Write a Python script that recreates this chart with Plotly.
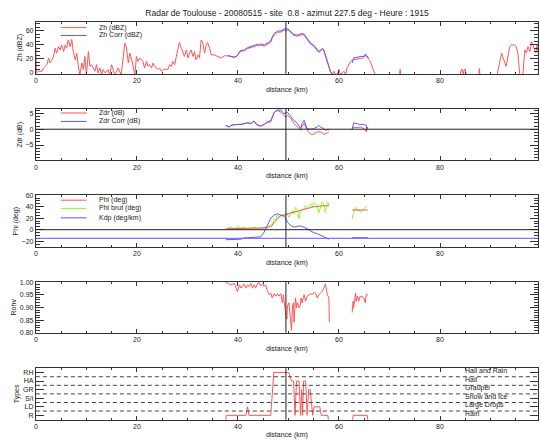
import plotly.graph_objects as go

# ---------------- data ----------------
TITLE = "Radar de Toulouse - 20080515 - site  0.8 - azimut 227.5 deg - Heure : 1915"
CURSOR_KM = 49.5

# Zh (red)
zh_km = [0.0, 0.1, 0.5, 1.2, 1.5, 2.2, 2.5, 2.8, 3.2, 3.5, 3.8, 4.1, 4.5, 4.8, 5.1, 5.5, 5.8, 6.1, 6.4, 6.8,
         7.1, 7.4, 7.8, 8.1, 8.4, 8.7, 9.1, 9.4, 9.7, 10.0, 10.4, 10.7, 11.0, 11.7, 12.0, 12.3, 12.7, 13.0, 13.3,
         13.7, 14.3, 14.6, 15.0, 15.3, 15.6, 16.3, 16.6, 16.9, 17.6, 17.9, 18.3, 18.6, 18.9, 19.2, 19.6, 19.9,
         20.2, 20.6, 20.9, 21.2, 21.5, 21.9, 22.2, 22.5, 22.9, 23.2, 23.5, 24.2, 24.5, 24.8, 25.5, 26.1, 26.5,
         26.8, 27.1, 27.5, 27.8, 28.1, 28.4, 28.8, 29.1, 29.4, 29.8, 30.1, 30.4, 30.7, 31.1, 31.4, 31.7, 32.1,
         32.4, 32.7, 33.0, 33.4, 33.7, 34.0, 34.4, 34.7, 35.3, 36.0, 36.7, 37.3, 37.97, 38.6, 39.3, 39.9, 40.3,
         40.6, 41.3, 41.9, 42.6, 43.2, 43.9, 44.2, 44.5, 45.2, 45.8, 46.5, 46.8, 47.2, 47.8, 48.5, 49.1, 49.5,
         49.8, 50.1, 50.5, 51.1, 51.8, 52.4, 52.7, 53.1, 53.7, 54.4, 55.0, 55.7, 56.0, 56.4, 56.7, 57.0, 57.4,
         57.7, 58.0, 58.3, 58.7, 59.0, 59.3, 59.7, 60.0, 60.3, 61.0, 61.3, 61.6, 62.0, 62.3, 62.9, 63.6, 64.2,
         64.9, 65.2, 65.5, 66.2, 66.5, 66.9, 67.2, 72.0, 72.1, 72.2, 84.0, 84.2, 84.4, 84.6, 84.8, 85.0, 85.2,
         87.7, 87.8, 87.9, 91.3, 91.6, 92.2, 92.5, 93.1, 93.8, 94.1, 94.8, 95.1, 95.4, 95.8, 96.4, 96.8, 97.1,
         97.4, 97.8, 98.1, 98.4, 98.7, 99.0, 99.2, 99.4]
zh_dbz = [38, 0, 2.3, 2.3, 7, 11.7, 21, 14, 18.6, 23.3, 35, 28, 37.3, 32.6, 39.6, 30.3, 39.6, 35, 46.6, 37.3,
          47.5, 30.3, 18.6, 28, 9.3, -3, 14, 4.7, 23.3, -3, 30.3, 9.3, 11.7, 2.3, 11.7, 0, 7, -3, 4.7,
          0, 4.7, -3, 11.7, 4.7, -3, 7, 2.3, -3, 42, 37.3, 14, 28, 21, 11.7, -3, 23.3,
          16.3, 21, 18.6, 16.3, 7, 16.3, 9.3, 11.7, 7, 14, 9.3, 4.7, 7, 2.3, 5.6, 4.7, 11.7,
          9.3, 16.3, 11.7, 23.3, 32.6, 43, 35, 30.3, 23.3, 32.6, 21, 28, 32.6, 23.3, 30.3, 18.6, 25.6,
          21, 46.6, 44.3, 28, 39.6, 43, 35, 25.6, 25.6, 23.3, 21, 24.2, 24.2, 23, 22, 24, 29,
          30.5, 31.5, 34.5, 36, 38, 39, 38.5, 39.5, 38, 40.5, 43.5, 49.5, 54, 57.5, 58, 60, 60.6,
          60.6, 59.7, 56.5, 53, 52, 53.5, 54.5, 53.5, 47.5, 40.5, 38, 31, 29, 31, 33.5, 31.5, 22.5,
          15.5, 11, 2, -2, 2.3, -2.3, -1.4, 4.7, -2.3, 2.3, -2.3, 7, 11.7, 16.3, 18.6, 20, 20.5,
          21.5, 25, 23, 16.3, 9.3, 2.3, -2.3, -2.3, 5, -2.3, -2.3, 5, 5, -2.3, 5, 5, -2.3,
          -2.3, 6, -2.3, -2.3, 7, 28, 21, 9.3, 37.3, 39.6, 39.6, 37.3, 28, -2.3, -2.3, 32.6, 28,
          37.3, 30.3, 44.3, 39.6, 35, 28, 40, 30]

# Zh Corr (blue)
zhc_km = [37.97, 38.6, 39.3, 39.9, 40.3, 40.6, 41.3, 41.9, 42.6, 43.2, 43.9, 44.2, 44.5, 45.2, 45.8, 46.5,
          46.8, 47.2, 47.8, 48.5, 49.1, 49.5, 49.8, 50.1, 50.5, 51.1, 51.8, 52.4, 52.7, 53.1, 53.7, 54.4,
          55.0, 55.7, 56.0, 56.4, 56.7, 57.0, 57.4, 57.7, 58.0, 58.3, 58.7, None,
          62.6, 62.9, 63.6, 64.2, 64.9, 65.2, 65.5, 65.9]
zhc_dbz = [24.7, 23.3, 22.4, 24.7, 30.3, 31.7, 32.6, 35.9, 37.3, 39.6, 40.6, 39.6, 41, 39.6, 42, 45.2,
           51.3, 55.9, 59.2, 59.7, 62, 62.9, 62, 61.5, 58.3, 54.5, 53.6, 55, 55.9, 55, 49, 42,
           39.6, 32.6, 30.3, 32.6, 35, 32.6, 23.3, 16.3, 11.7, 2.3, -2, None,
           14, 21, 21.9, 23.3, 23.3, 26.6, 24.7, 21]

# Zdr (red) and Zdr Corr (blue)
zdr_km = [37.6, 38.3, 38.6, 39.3, 40.6, 41.9, 42.6, 43.2, 43.5, 43.9, 44.5, 45.2, 45.8, 46.5, 47.2, 47.8,
          48.5, 49.1, 49.5, 49.8, 50.4, 51.1, 51.8, 52.4, 52.7, 53.1, 53.7, 54.4, 55.0, 55.7, 56.4, 57.0,
          57.7, 58.0, None, 62.6, 62.9, 63.6, 64.2, 64.9, 65.4, 65.5]
zdr_db = [1.2, 0.7, 1.2, 1.45, 1.55, 2.0, 1.8, 2.6, 1.8, 1.4, 1.0, 1.5, 2.1, 2.3, 5.4, 5.9,
          5.4, 4.4, 3.8, 4.4, 3.6, 1.8, 0.7, -0.3, 0.9, 1.8, -0.3, -1.6, -1.6, -0.85, -0.85, -1.6,
          -1.15, -0.85, None, -0.3, 0.7, 0.5, 0.7, 0.2, -0.85, 0.2]
zdrc_km = [37.6, 38.3, 38.6, 39.3, 40.6, 41.9, 42.6, 43.2, 43.5, 43.9, 44.5, 45.2, 45.8, 46.5, 47.2, 47.8,
           48.5, 48.8, 49.1, 49.8, 50.1, 50.4, 50.8, 51.1, 51.8, 52.4, 52.7, 53.1, 53.4, 53.7, 54.4, 55.0,
           55.7, 56.0, 56.4, 57.0, 57.3, 58.0, None, 62.6, 62.9, 63.6, 64.2, 64.9, 65.4, 65.5, 65.7]
zdrc_db = [1.2, 0.7, 1.2, 1.45, 1.55, 2.0, 1.8, 2.6, 1.8, 1.2, 1.0, 1.55, 2.3, 2.8, 5.4, 6.1,
           6.1, 5.4, 4.9, 5.4, 4.7, 4.4, 3.3, 2.8, 1.8, 0.2, 1.8, 2.8, 1.2, 0.2, 0.0, 0.2,
           0.7, 1.2, 0.7, -0.1, -0.3, 0.0, None, 0.0, 2.0, 1.8, 1.45, 1.55, 1.2, -0.3, 0.7]

# Phi (red), Phi brut (green), Kdp (blue)
phi_km = [37.6, 38.6, 39.9, 41.9, 44.5, 45.8, 46.5, 47.2, 47.8, 48.5, 49.1, 49.8, 50.4, 51.1, 51.8, 52.4,
          53.1, 53.7, 54.4, 55.0, 55.7, 56.4, 57.0, 58.0, None, 62.6, 65.7]
phi_deg = [1.7, 1.7, 1.7, 2.2, 2.8, 4.5, 5.0, 13.1, 18.8, 24.5, 25.7, 27.4, 29.1, 30.2, 31.4, 33.1,
           34.8, 37.1, 38.8, 39.9, 40.5, 41.7, 41.7, 41.7, None, 34.2, 34.2]
phib_km = [38.0, 38.6, 39.3, 39.9, 40.6, 41.2, 41.9, 42.6, 43.2, 43.9, 44.5, 45.2, 45.8, 46.5, 46.8, 47.2,
           47.5, 47.8, 48.1, 48.5, 49.1, 49.5, 49.8, 50.1, 50.4, 50.8, 51.1, 51.4, 51.8, 52.1, 52.4, 52.7,
           53.1, 53.4, 53.7, 54.1, 54.4, 54.7, 55.0, 55.4, 55.7, 56.0, 56.4, 56.7, 57.0, 57.3, 57.7, 57.8,
           58.0, None, 62.6, 62.9, 63.3, 63.6, 63.9, 64.2, 64.6, 64.9, 65.2, 65.5]
phib_deg = [2.8, 4.5, 1.7, 5.1, 2.8, 3.9, 1.7, 3.4, 4.5, 1.7, 3.9, 0.5, 4.5, 8.5, 7.4, 18.8,
            15.9, 25.7, 21.7, 25.7, 24.5, 25.7, 27.4, 21.7, 25.7, 33.1, 27.4, 38.8, 35.9, 18.8, 33.1, 34.8,
            35.9, 41.7, 38.8, 40.5, 44.5, 38.8, 47.4, 44.5, 42.8, 29.1, 41.7, 48.5, 44.5, 30.2, 47.4, 48.5,
            41.7, None, 18.8, 30.2, 38.8, 33.1, 35.9, 30.2, 33.1, 35.9, 38.8, 41.7]
kdp_km = [37.6, 38.6, 39.9, 40.6, 41.2, 42.6, 43.9, 44.5, 45.2, 45.8, 46.5, 47.2, 47.8, 48.1, 48.5, 49.1,
          49.5, 49.8, 50.4, 51.1, 51.8, 52.4, 53.1, 53.7, 54.4, 55.0, 55.7, 56.4, 57.0, 57.7, 58.0, None,
          62.6, 65.7]
kdp_val = [-17.5, -17, -16.8, -16.5, -14.5, -14, -13, -12.5, -4, 7.4, 20, 25.7, 27.4, 26.8, 25.7, 23.4,
           18.8, 13.1, 7.4, 4.5, 6.2, 6.2, 4.5, 1.7, -2.9, -5.2, -6.9, -9.8, -12.6, -15.5, -16.6, None,
           -14, -14]
KDP_BASE = -15

# Rhohv
rho_km = [37.6, 38.6, 39.3, 39.6, 39.9, 40.3, 40.6, 41.2, 41.6, 41.9, 42.2, 42.6, 42.9, 43.2, 43.5, 43.9,
          44.2, 44.5, 44.9, 45.2, 45.5, 45.8, 46.2, 46.5, 46.8, 47.2, 47.5, 47.8, 48.1, 48.5, 48.8, 49.0,
          49.3, 49.5, 49.7, 49.8, 50.1, 50.3, 50.6, 50.8, 51.0, 51.1, 51.4, 51.6, 51.8, 52.1, 52.3, 52.5,
          52.7, 53.1, 53.4, 53.7, 54.1, 54.4, 54.7, 55.0, 55.4, 55.7, 56.0, 56.4, 56.7, 57.0, 57.3, 57.7,
          58.0, 58.1, None, 62.6, 62.8, 62.9, 63.1, 63.3, 63.4, 63.7, 63.9, 64.2, 64.6, 64.9, 65.2, 65.4, 65.7]
rho_val = [1.0, 0.99, 0.996, 0.977, 0.964, 0.99, 0.977, 0.994, 0.977, 0.99, 0.983, 0.996, 0.977, 0.99, 0.977, 0.996,
           0.999, 0.986, 0.994, 0.983, 0.99, 0.968, 0.951, 0.957, 0.938, 0.955, 0.945, 0.955, 0.945, 0.955, 0.919, 0.951,
           0.88, 0.867, 0.854, 0.906, 0.919, 0.861, 0.809, 0.906, 0.919, 0.841, 0.938, 0.899, 0.919, 0.899, 0.906, 0.938,
           0.919, 0.951, 0.925, 0.945, 0.951, 0.955, 0.951, 0.96, 0.955, 0.938, 0.951, 0.957, 0.964, 0.977, 0.994, 0.951,
           0.938, 0.841, None, 0.88, 0.925, 0.899, 0.938, 0.957, 0.925, 0.945, 0.925, 0.945, 0.942, 0.938, 0.919, 0.951, 0.951]

# Hydrometeor types (0 = none, 1..6 = R, LD, S/I, GR, HA, RH)
typ_km = [37.5, 37.7, 41.6, 41.9, 42.2, 46.5, 47.1, 50.1, 50.6, 51.0, 51.3, 51.6, 52.1, 52.4, 52.6, 52.8,
          53.0, 53.4, 53.7, 54.0, 54.3, 54.5, 54.8, 55.1, 56.2, 56.5, 57.8, 58.0, 62.6, 62.8, 65.6, 65.8]
typ_val = [0, 1, 1, 2, 1, 1, 6, 6, 5, 5, 1, 5, 5, 1, 4, 1,
           5, 5, 1, 4, 4, 3, 1, 2, 2, 1, 1, 0, 0, 1, 1, 0]
TYPE_CODES = ["R", "LD", "S/I", "GR", "HA", "RH"]
TYPE_NAMES = ["Rain", "Large Drops", "Snow and Ice", "Graupel", "Hail", "Hail and Rain"]
TYPE_LEVELS = [1, 2, 3, 4, 5, 6]
TYPE_LABEL_KM = 84.5

# ---------------- layout ----------------
W, H = 541, 443
X0, X1 = 34, 538
X_RANGE = [0, 99.4]
PANELS = [(18, 71), (106.7, 159), (194.3, 247), (282.3, 334), (370, 422.3)]
RED, BLUE, GREEN = "#ff5555", "#5a5aff", "#88ff22"
AX = "#333333"
TXT = "#222222"
FONT = "Liberation Sans"
FS = 7
FS_TITLE = 8.5

yconf = [
    dict(title="Zh (dBZ)", range=[-1.4, 72.6], dtick=20, minor=5),
    dict(title="Zdr (dB)", range=[-9.9, 6.4], dtick=5, minor=1),
    dict(title="Phi (deg)", range=[-30.3, 60], dtick=20, minor=5),
    dict(title="Rohv", range=[0.8, 1.002], dtick=0.05, minor=0.01),
    dict(title="Types", range=[0.5, 6.5], dtick=None, minor=None),
]

fig = go.Figure()

def add(i, x, y, color):
    s = "" if i == 1 else str(i)
    fig.add_trace(go.Scatter(x=x, y=y, mode="lines", line=dict(color=color, width=1),
                             xaxis="x" + s, yaxis="y" + s, showlegend=False, connectgaps=False,
                             hoverinfo="skip"))

add(1, zh_km, zh_dbz, RED)
add(1, zhc_km, zhc_dbz, BLUE)
add(2, zdr_km, zdr_db, RED)
add(2, zdrc_km, zdrc_db, BLUE)
add(3, phib_km, phib_deg, GREEN)
add(3, phi_km, phi_deg, RED)
add(3, kdp_km, kdp_val, BLUE)
add(4, rho_km, rho_val, RED)
add(5, typ_km, typ_val, RED)

lay = dict(width=W, height=H, margin=dict(l=0, r=0, t=0, b=0),
           paper_bgcolor="white", plot_bgcolor="white",
           font=dict(family=FONT, size=FS, color=TXT), showlegend=False)

for i, ((top, bot), yc) in enumerate(zip(PANELS, yconf), start=1):
    s = "" if i == 1 else str(i)
    lay["xaxis" + s] = dict(
        domain=[X0 / W, X1 / W], anchor="y" + s, range=X_RANGE,
        tickmode="linear", tick0=0, dtick=20, ticks="inside", ticklen=4, tickcolor=AX,
        minor=dict(dtick=5, tick0=0, ticks="inside", ticklen=2, tickcolor=AX),
        showline=True, linecolor=AX, linewidth=1, mirror="allticks",
        showgrid=False, zeroline=False, tickfont=dict(size=FS),
        title=dict(text="distance (km)", font=dict(size=FS), standoff=3))
    ya = dict(
        domain=[1 - bot / H, 1 - top / H], anchor="x" + s, range=yc["range"],
        ticks="inside", ticklen=8, tickcolor=AX,
        showline=True, linecolor=AX, linewidth=1, mirror="allticks",
        showgrid=False, zeroline=False, tickfont=dict(size=FS),
        title=dict(text=yc["title"], font=dict(size=FS), standoff=2))
    if yc["dtick"] is not None:
        ya.update(tickmode="linear", tick0=0, dtick=yc["dtick"],
                  minor=dict(dtick=yc["minor"], tick0=0, ticks="inside", ticklen=4, tickcolor=AX))
    else:
        ya.update(tickmode="array", tickvals=TYPE_LEVELS, ticktext=TYPE_CODES)
    if i == 4:
        ya["tickformat"] = ".2f"
    lay["yaxis" + s] = ya

lay["title"] = dict(text=TITLE, x=287 / W, xanchor="center", y=1 - 13 / H, yanchor="middle",
                    font=dict(size=FS_TITLE, family=FONT, color=TXT))

shapes = []
annotations = []
for i in range(1, 6):
    s = "" if i == 1 else str(i)
    shapes.append(dict(type="line", xref="x" + s, yref="y" + s + " domain", x0=CURSOR_KM, x1=CURSOR_KM,
                       y0=0, y1=1, line=dict(color="#222222", width=1)))
for i in (2, 3):
    shapes.append(dict(type="line", xref="x%d domain" % i, yref="y%d" % i, x0=0, x1=1, y0=0, y1=0,
                       line=dict(color="#222222", width=1)))
shapes.append(dict(type="line", xref="x3 domain", yref="y3", x0=0, x1=1, y0=KDP_BASE, y1=KDP_BASE,
                   line=dict(color=BLUE, width=1)))
for lv in TYPE_LEVELS[:-1]:
    shapes.append(dict(type="line", xref="x5 domain", yref="y5", x0=0, x1=1, y0=lv + 0.5, y1=lv + 0.5,
                       line=dict(color="#444444", width=1, dash="4px,3px")))

# in-panel legends (line sample drawn as a trace, placed by axis-fraction)
LEG_X = (0.0496, 0.1012, 0.121)
legends = [
    (1, [("Zh (dBZ)", RED, 0.887), ("Zh Corr (dBZ)", BLUE, 0.736)]),
    (2, [("Zdr (dB)", RED, 0.923), ("Zdr Corr (dB)", BLUE, 0.759)]),
    (3, [("Phi (deg)", RED, 0.905), ("Phi brut (deg)", GREEN, 0.746), ("Kdp (deg/km)", BLUE, 0.564)]),
]

def frac(rng, f):
    return rng[0] + f * (rng[1] - rng[0])

for i, items in legends:
    s = "" if i == 1 else str(i)
    yr = yconf[i - 1]["range"]
    for name, col, yf in items:
        yv = frac(yr, yf)
        add(i, [frac(X_RANGE, LEG_X[0]), frac(X_RANGE, LEG_X[1])], [yv, yv], col)
        annotations.append(dict(text=name, xref="x" + s + " domain", yref="y" + s + " domain",
                                x=LEG_X[2], y=yf, xanchor="left", yanchor="middle", showarrow=False,
                                font=dict(size=FS, color=TXT)))

for lv, name in zip(TYPE_LEVELS, TYPE_NAMES):
    annotations.append(dict(text=name, xref="x5", yref="y5", x=TYPE_LABEL_KM, y=lv + 0.17,
                            xanchor="left", yanchor="middle", showarrow=False,
                            font=dict(size=FS, color=TXT)))

lay["shapes"] = shapes
lay["annotations"] = annotations
fig.update_layout(**lay)
fig.write_html("out.html")
